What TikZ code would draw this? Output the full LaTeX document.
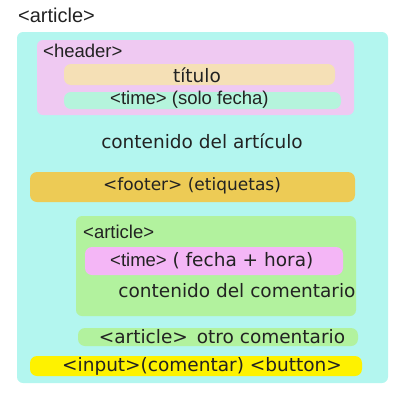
\documentclass[tikz,border=0pt]{standalone}
\usepackage{fontspec}
\setmainfont{DejaVu Sans}
\newfontfamily\tagfont{Liberation Sans}
\definecolor{cyanbg}{HTML}{B3F6EF}
\definecolor{headerbg}{HTML}{EFC9F2}
\definecolor{titlebg}{HTML}{F5E0B6}
\definecolor{timebg}{HTML}{B5F4DC}
\definecolor{footerbg}{HTML}{EDCB55}
\definecolor{greenbg}{HTML}{B2F29E}
\definecolor{pinkbg}{HTML}{F4B6F6}
\definecolor{yellowbg}{HTML}{FEF200}
\definecolor{txt}{HTML}{222222}
\begin{document}
\begin{tikzpicture}[x=1pt,y=-1pt,font=\fontsize{18.5}{20}\selectfont,text=txt,inner sep=0pt,
        tag/.style={font=\tagfont\fontsize{18.5}{20}\selectfont}]
        \useasboundingbox (0,0) rectangle (400,400);
        \fill[cyanbg,rounded corners=6] (17,32) rectangle (388,383);
        \fill[headerbg,rounded corners=6] (37,40) rectangle (354,115);
        \fill[titlebg,rounded corners=7] (64,64) rectangle (335,85);
        \fill[timebg,rounded corners=7] (64,92) rectangle (341,109);
        \fill[footerbg,rounded corners=7] (30,172) rectangle (355,202);
        \fill[greenbg,rounded corners=6] (76,216) rectangle (356,316);
        \fill[pinkbg,rounded corners=7] (85,247) rectangle (343,275);
        \fill[greenbg,rounded corners=7] (78,328) rectangle (358,346);
        \fill[yellowbg,rounded corners=7] (30,356) rectangle (362,376);
        \node[tag,font=\tagfont\fontsize{20}{22}\selectfont,anchor=west] (art) at (18,15) {<article>};
        \node[tag,anchor=west] (hdr) at (43,51) {<header>};
        \node (tit) at (197,75) {título};
        \node[tag,anchor=west] (tim) at (110,100) {<time> (solo fecha)};
        \node (cont) at (202,141) {contenido del artículo};
        \node[font=\fontsize{17}{19}\selectfont] (ftr) at (192,186) {<footer> (etiquetas)};
        \node[tag,anchor=west] (art2) at (83,232) {<article>};
        \node[anchor=west] (tim2) at (110,261) {{\tagfont <time>} ( fecha + hora)};
        \node (cont2) at (237,291) {contenido del comentario};
        \node (otro) at (222,337) {<article>\, otro comentario};
        \node (inp) at (202,366) {<input>(comentar) <button>};
    \end{tikzpicture}
\end{document}
